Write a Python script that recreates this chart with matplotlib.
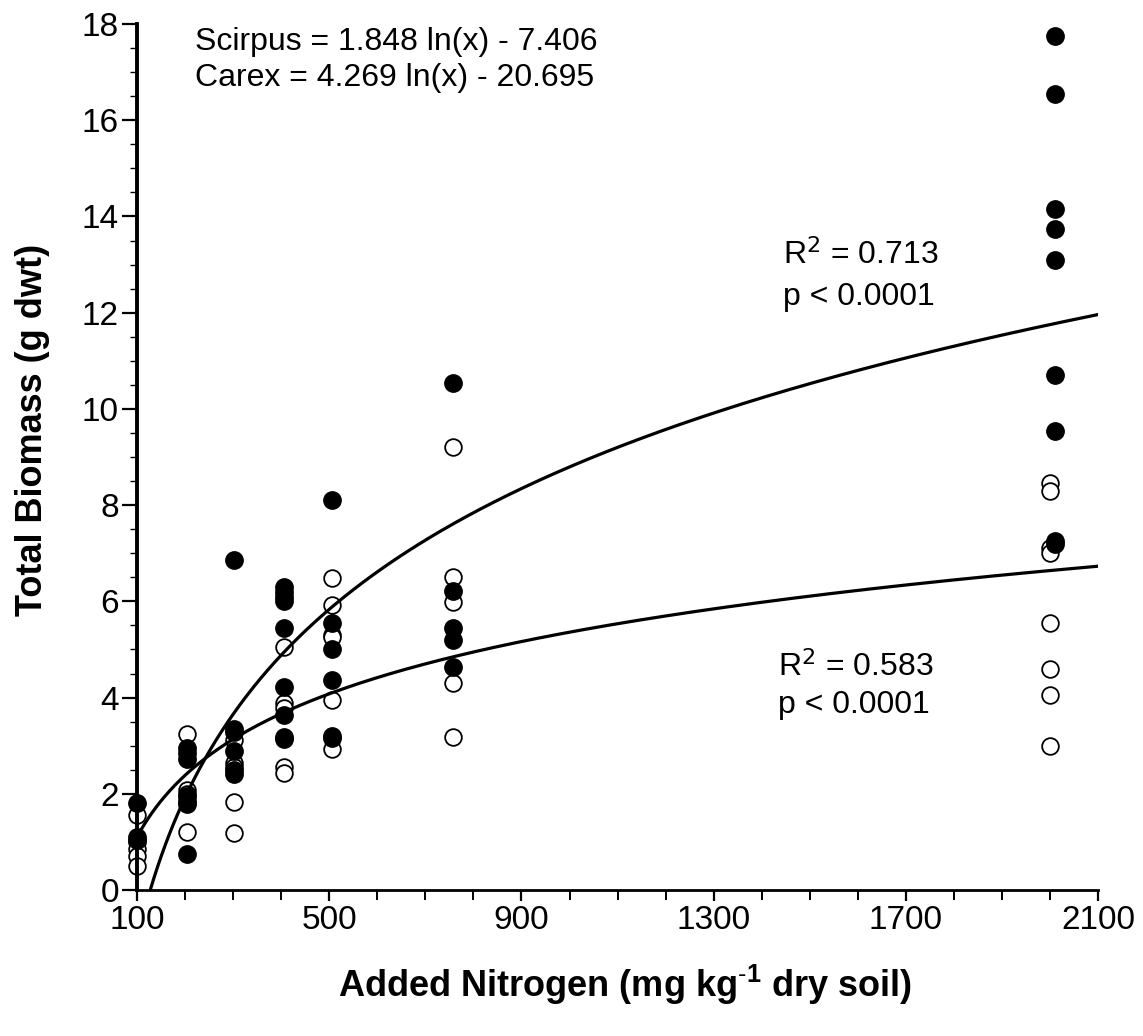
import numpy as np
import matplotlib
matplotlib.use('Agg')
import matplotlib.pyplot as plt
from matplotlib.ticker import MultipleLocator, FixedLocator

plt.rcParams['font.family'] = ['Liberation Sans', 'DejaVu Sans']
plt.rcParams['mathtext.fontset'] = 'custom'
plt.rcParams['mathtext.rm'] = 'Liberation Sans'
plt.rcParams['mathtext.it'] = 'Liberation Sans:italic'
plt.rcParams['mathtext.bf'] = 'Liberation Sans:bold'

# Carex (filled circles)
carex_x = [100] * 3 + [203] * 7 + [302] * 6 + [405] * 9 + [505] * 6 + [757] * 5 + [2010] * 9
carex_y = [1.8, 1.1, 1.05,
           2.95, 2.85, 2.72, 1.95, 1.85, 1.78, 0.75,
           6.85, 3.35, 3.28, 2.88, 2.5, 2.42,
           6.3, 6.2, 6.1, 6.0, 5.45, 4.23, 3.64, 3.18, 3.14,
           8.1, 5.55, 5.02, 4.37, 3.2, 3.15,
           10.54, 6.22, 5.45, 5.2, 4.64,
           17.75, 16.55, 14.15, 13.75, 13.1, 10.7, 9.55, 7.25, 7.2]

# Scirpus (open circles)
scirpus_x = [100] * 5 + [203] * 4 + [302] * 5 + [405] * 5 + [505] * 6 + [757] * 5 + [2000] * 8
scirpus_y = [1.55, 1.0, 0.85, 0.7, 0.5,
             3.24, 2.08, 2.0, 1.2,
             3.12, 2.65, 2.55, 1.82, 1.18,
             5.06, 3.88, 3.78, 2.56, 2.43,
             6.48, 5.93, 5.3, 5.25, 3.96, 2.93,
             9.21, 6.51, 5.98, 4.3, 3.18,
             8.45, 8.3, 7.1, 7.0, 5.55, 4.6, 4.05, 3.0]

# fitted curves given on the chart: y = a ln(x) + b
scirpus_fit = (1.848, -7.406)
carex_fit = (4.269, -20.695)

fig = plt.figure(figsize=(11.43, 10.36), dpi=100)
ax = fig.add_axes([0.1199, 0.1409, 0.8408, 0.8359])

ax.plot(scirpus_x, scirpus_y, 'o', ms=12, mfc='white', mec='black', mew=1.3,
        clip_on=False, zorder=2)
ax.plot(carex_x, carex_y, 'o', ms=12.5, mfc='black', mec='black', mew=1,
        clip_on=False, zorder=3)

xs = np.linspace(100, 2100, 500)
ax.plot(xs, scirpus_fit[0] * np.log(xs) + scirpus_fit[1], color='black', lw=2.3, zorder=4)
x0 = np.exp(-carex_fit[1] / carex_fit[0])
xc = np.linspace(x0, 2100, 500)
ax.plot(xc, carex_fit[0] * np.log(xc) + carex_fit[1], color='black', lw=2.3, zorder=4)

ax.set_xlim(100, 2100)
ax.set_ylim(0, 18)
ax.spines['top'].set_visible(False)
ax.spines['right'].set_visible(False)
ax.spines['left'].set_linewidth(2.8)
ax.spines['bottom'].set_linewidth(2.0)

ax.xaxis.set_major_locator(FixedLocator([100, 500, 900, 1300, 1700, 2100]))
ax.xaxis.set_minor_locator(MultipleLocator(100))
ax.yaxis.set_major_locator(MultipleLocator(2))
ax.yaxis.set_minor_locator(MultipleLocator(0.5))
ax.tick_params(axis='both', which='major', direction='out', labelsize=24, width=1.6)
ax.tick_params(axis='y', which='major', length=11, pad=2)
ax.tick_params(axis='y', which='minor', length=5, width=1)
ax.tick_params(axis='x', which='major', length=8, pad=3)
ax.tick_params(axis='x', which='minor', length=7, width=1.4)

ax.text(221, 17.62, 'Scirpus = 1.848 ln(x) - 7.406', fontsize=23, va='center')
ax.text(221, 16.88, 'Carex = 4.269 ln(x) - 20.695', fontsize=23, va='center')
ax.text(1444, 13.2, 'R$^{\\mathsf{2}}$ = 0.713', fontsize=23, va='center')
ax.text(1444, 12.33, 'p < 0.0001', fontsize=23, va='center')
ax.text(1434, 4.64, 'R$^{\\mathsf{2}}$ = 0.583', fontsize=23, va='center')
ax.text(1434, 3.85, 'p < 0.0001', fontsize=23, va='center')

fig.text(0.547, 0.049, 'Added Nitrogen (mg kg$^{\\mathbf{\\text{-}1}}$ dry soil)', fontsize=26,
         fontweight='bold', ha='center', va='center')
fig.text(0.028, 0.585, 'Total Biomass (g dwt)', fontsize=26, fontweight='bold',
         rotation=90, ha='center', va='center')

fig.savefig('out.png', dpi=100)
